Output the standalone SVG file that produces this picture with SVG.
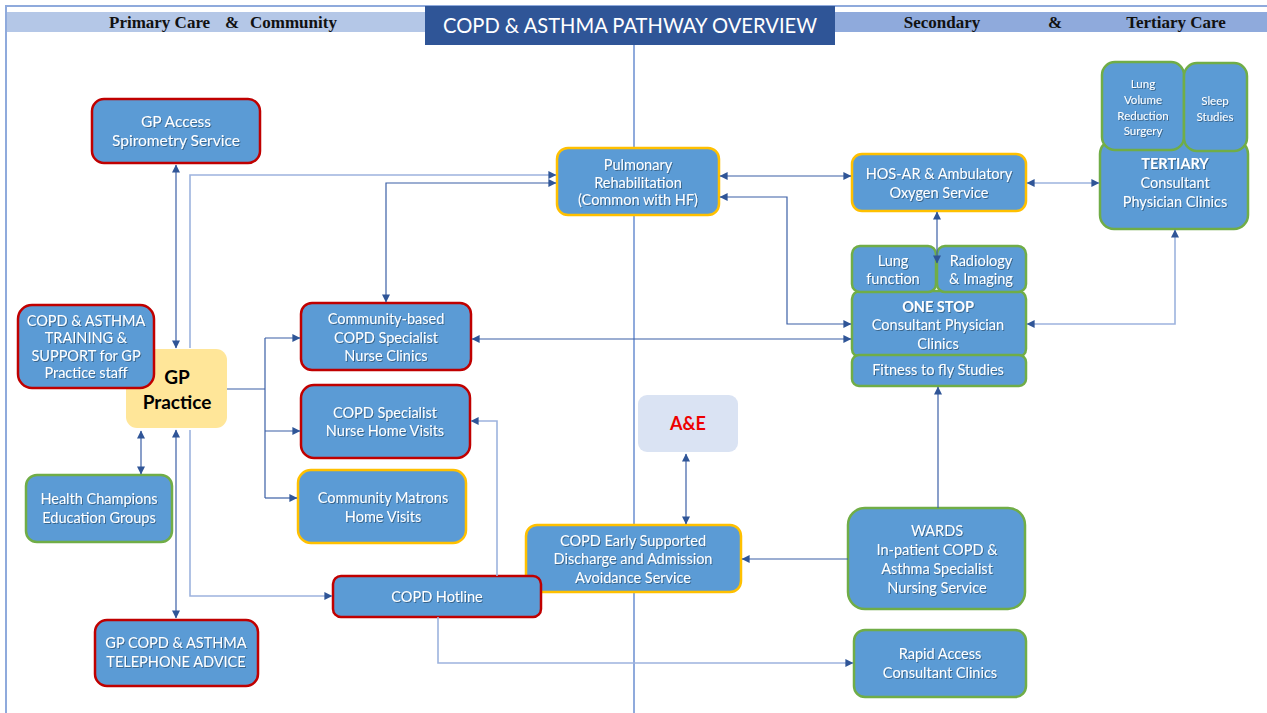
<svg xmlns="http://www.w3.org/2000/svg" width="1267" height="713" viewBox="0 0 1267 713">
<style>
.bx{fill:#5b9bd5;stroke-width:2.5}
.r{stroke:#c00000}
.y{stroke:#ffc000}
.g{stroke:#70ad47}
.t{fill:#fff;font-family:Lato,"Open Sans","Liberation Sans",sans-serif;font-size:14.5px;text-anchor:middle;filter:url(#sh)}
.s{font-size:11.5px}
.b{font-weight:bold}
.hd{font-family:"Liberation Serif",serif;font-weight:bold;font-size:17px;fill:#111}
.c{fill:none;stroke:#3b5fa6;stroke-width:1.2}
.l{stroke:#9db3de;stroke-width:1.6}
.m2{marker-start:url(#ah);marker-end:url(#ah)}
.m1{marker-end:url(#ah)}
</style>
<defs>
<filter id="sh" x="-10%" y="-30%" width="130%" height="160%">
<feDropShadow dx="1" dy="1" stdDeviation="0.7" flood-color="#000" flood-opacity="0.35"/>
</filter>
<marker id="ah" viewBox="0 0 10 10" refX="9.5" refY="5" markerWidth="9" markerHeight="8" markerUnits="userSpaceOnUse" orient="auto-start-reverse">
<path d="M0,0 L10,5 L0,10 z" fill="#2f5597"/>
</marker>
</defs>
<rect width="1267" height="713" fill="#fff"/>
<g id="frame">
<line x1="5" y1="6" x2="1267" y2="6" stroke="#8faadc" stroke-width="2"/>
<line x1="6" y1="6" x2="6" y2="713" stroke="#8faadc" stroke-width="2"/>
<rect x="7" y="12" width="418" height="20" fill="#b4c7e7"/>
<rect x="835" y="12" width="432" height="20" fill="#8faadc"/>
<line x1="634" y1="45" x2="634" y2="713" stroke="#8faadc" stroke-width="2"/>
<rect x="425" y="6" width="410" height="39" fill="#2f5597"/>
<text x="630" y="33" font-family="Lato,'Open Sans','Liberation Sans',sans-serif" font-size="21" fill="#fff" text-anchor="middle" textLength="374" lengthAdjust="spacingAndGlyphs">COPD &amp; ASTHMA PATHWAY OVERVIEW</text>
<text class="hd" x="109" y="28">Primary Care</text>
<text class="hd" x="225" y="28">&amp;</text>
<text class="hd" x="250" y="28">Community</text>
<text class="hd" x="942" y="28" text-anchor="middle">Secondary</text>
<text class="hd" x="1055" y="28" text-anchor="middle">&amp;</text>
<text class="hd" x="1176" y="28" text-anchor="middle">Tertiary Care</text>
</g>
<g id="nodes">
<g id="gp-access"><rect class="bx r" x="92" y="99" width="168" height="64" rx="12"/><text class="t" x="176" y="127" style="font-size:15.5px">GP Access</text><text class="t" x="176" y="146" style="font-size:15.5px">Spirometry Service</text></g>
<g id="gp-practice"><rect x="126" y="349" width="101" height="79" rx="11" fill="#ffe699"/><text x="177" y="384" font-family="Lato,'Liberation Sans',sans-serif" font-weight="bold" font-size="19" text-anchor="middle" fill="#000">GP</text><text x="177" y="409" font-family="Lato,'Liberation Sans',sans-serif" font-weight="bold" font-size="19" text-anchor="middle" fill="#000">Practice</text></g>
<g id="training"><rect class="bx r" x="18" y="305" width="136" height="83" rx="14"/><text class="t" x="86" y="326">COPD &amp; ASTHMA</text><text class="t" x="86" y="343">TRAINING &amp;</text><text class="t" x="86" y="361">SUPPORT for GP</text><text class="t" x="86" y="378">Practice staff</text></g>
<g id="health-champions"><rect class="bx g" x="26" y="475" width="146" height="67" rx="11"/><text class="t" x="99" y="504">Health Champions</text><text class="t" x="99" y="523">Education  Groups</text></g>
<g id="telephone-advice"><rect class="bx r" x="95" y="620" width="163" height="66" rx="12"/><text class="t" x="176" y="648">GP COPD &amp; ASTHMA</text><text class="t" x="176" y="667">TELEPHONE ADVICE</text></g>
<g id="community-clinics"><rect class="bx r" x="301" y="303" width="170" height="67" rx="11"/><text class="t" x="386" y="324">Community-based</text><text class="t" x="386" y="343">COPD Specialist</text><text class="t" x="386" y="361">Nurse Clinics</text></g>
<g id="home-visits"><rect class="bx r" x="301" y="385" width="169" height="73" rx="13"/><text class="t" x="385" y="418">COPD Specialist</text><text class="t" x="385" y="436">Nurse Home Visits</text></g>
<g id="matrons"><rect class="bx y" x="298" y="470" width="168" height="73" rx="13"/><text class="t" x="383" y="503">Community  Matrons</text><text class="t" x="383" y="522">Home Visits</text></g>
<g id="early-supported"><rect class="bx y" x="526" y="525" width="215" height="67" rx="11"/><text class="t" x="633" y="546">COPD Early Supported</text><text class="t" x="633" y="564">Discharge and Admission</text><text class="t" x="633" y="583">Avoidance  Service</text></g>
<g id="hotline"><rect class="bx r" x="333" y="576" width="208" height="41" rx="8"/><text class="t" x="437" y="602">COPD Hotline</text></g>
<g id="ae"><rect x="638" y="395" width="100" height="57" rx="9" fill="#dae3f3"/><text x="688" y="430" font-family="Lato,'Liberation Sans',sans-serif" font-weight="bold" font-size="18" text-anchor="middle" fill="#ee0000">A&amp;E</text></g>
<g id="pulmonary"><rect class="bx y" x="557" y="148" width="162" height="67" rx="11"/><text class="t" x="638" y="170">Pulmonary</text><text class="t" x="638" y="188">Rehabilitation</text><text class="t" x="638" y="205">(Common with HF)</text></g>
<g id="hos-ar"><rect class="bx y" x="852" y="154" width="174" height="57" rx="10"/><text class="t" x="939" y="179">HOS-AR &amp; Ambulatory</text><text class="t" x="939" y="198">Oxygen Service</text></g>
<g id="tertiary"><rect class="bx g" x="1100" y="140" width="148" height="89" rx="14"/><text class="t b" x="1175" y="169">TERTIARY</text><text class="t" x="1175" y="188">Consultant</text><text class="t" x="1175" y="207">Physician Clinics</text></g>
<g id="lvrs"><rect class="bx g" x="1102" y="62" width="82" height="88" rx="13"/><text class="t s" x="1143" y="88">Lung</text><text class="t s" x="1143" y="104">Volume</text><text class="t s" x="1143" y="120">Reduction</text><text class="t s" x="1143" y="135">Surgery</text></g>
<g id="sleep"><rect class="bx g" x="1184" y="63" width="63" height="88" rx="13"/><text class="t s" x="1215" y="105">Sleep</text><text class="t s" x="1215" y="121">Studies</text></g>
<g id="one-stop"><rect class="bx g" x="852" y="291" width="174" height="66" rx="8"/><text class="t b" x="938" y="312">ONE STOP</text><text class="t" x="938" y="330">Consultant Physician</text><text class="t" x="938" y="349">Clinics</text></g>
<g id="lung-function"><rect class="bx g" x="852" y="246" width="84" height="46" rx="8"/><text class="t" x="893" y="266">Lung</text><text class="t" x="893" y="284">function</text></g>
<g id="radiology"><rect class="bx g" x="937" y="246" width="89" height="46" rx="8"/><text class="t" x="981" y="266">Radiology</text><text class="t" x="981" y="284">&amp; Imaging</text></g>
<g id="fitness"><rect class="bx g" x="852" y="355" width="174" height="31" rx="7"/><text class="t" x="938" y="375">Fitness to fly Studies</text></g>
<g id="wards"><rect class="bx g" x="848" y="508" width="177" height="101" rx="17"/><text class="t" x="937" y="536">WARDS</text><text class="t" x="937" y="555">In-patient COPD &amp;</text><text class="t" x="937" y="574">Asthma Specialist</text><text class="t" x="937" y="593">Nursing Service</text></g>
<g id="rapid-access"><rect class="bx g" x="854" y="630" width="172" height="67" rx="11"/><text class="t" x="940" y="659">Rapid Access</text><text class="t" x="940" y="678">Consultant Clinics</text></g>
</g>
<g id="connectors">
<path class="c m2" d="M176,165 V348"/>
<path class="c l" d="M190,430 V596 H332" marker-end="url(#ah)"/>
<path class="c l" d="M190,348 V175 H556" marker-end="url(#ah)"/>
<path class="c m2" d="M176,430 V618"/>
<path class="c m2" d="M141,431 V474"/>
<path class="c" d="M227,389 H265 M265,338 V498"/>
<path class="c m1" d="M265,338 H300"/>
<path class="c m1" d="M265,431 H300"/>
<path class="c m1" d="M265,498 H297"/>
<path class="c m2" d="M386,302 V183 H556"/>
<path class="c m2" d="M472,339 H851"/>
<path class="c m2" d="M720,197 H787 V324 H851"/>
<path class="c m2" d="M720,176 H851"/>
<path class="c m2" d="M937,212 V263"/>
<path class="c l m2" d="M1027,183 H1099"/>
<path class="c l m2" d="M1175,230 V324 H1027"/>
<path class="c m1" d="M938,508 V387"/>
<path class="c m1" d="M848,559 H742"/>
<path class="c l m1" d="M497,576 V421 H471"/>
<path class="c l m1" d="M438,617 V663 H853"/>
<path class="c m2" d="M686,454 V524"/>
</g>
</svg>
